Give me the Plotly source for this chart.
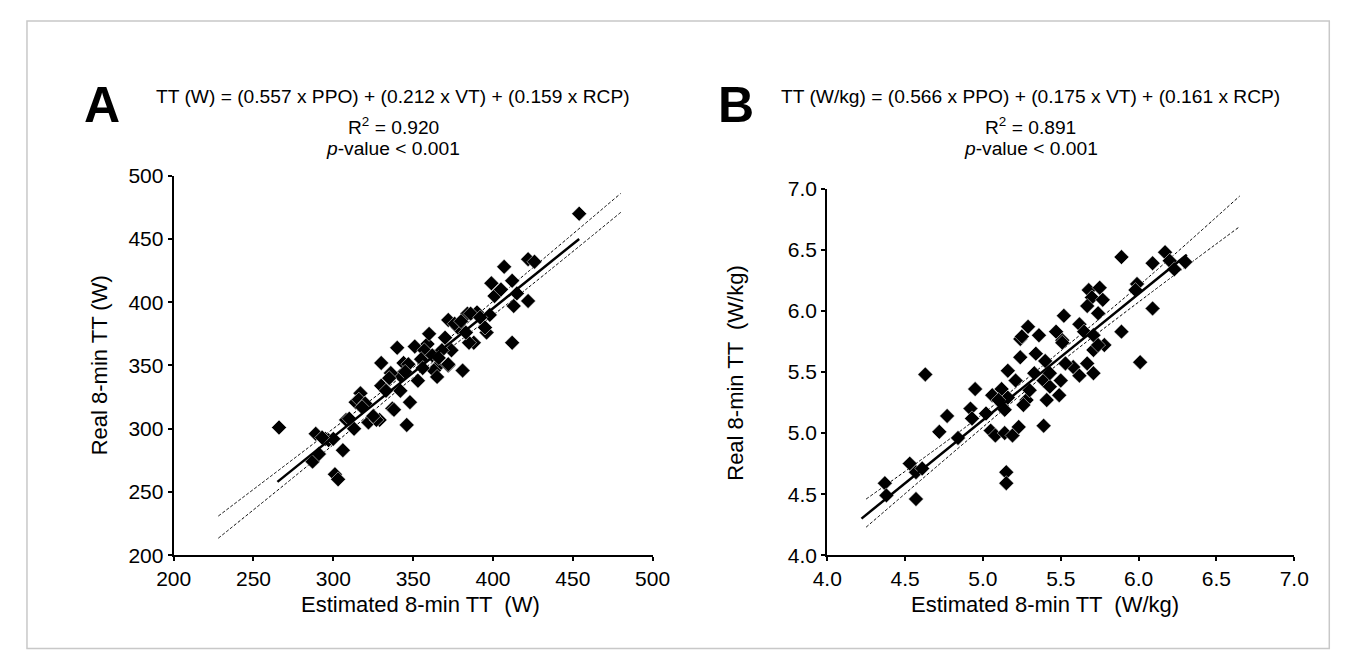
import plotly.graph_objects as go

# ---------------- data ----------------
a_est = [266, 289, 287, 291, 295, 301, 303, 306, 308, 313, 317, 314, 322, 329, 330, 330, 337, 342,
         344, 346, 348, 353, 340, 351, 359, 365, 372, 381, 388, 374, 297, 316, 320, 327, 338, 336,
         342, 347, 360, 412, 396, 385, 413, 422, 363, 372, 357, 368, 365, 372, 384, 390, 454, 407,
         422, 426, 412, 399, 401, 415, 395, 386, 325, 335, 345, 355, 362, 370, 378, 376, 380, 398,
         405, 318, 310, 300, 293, 333, 356, 366, 383, 392]
a_real = [301, 296, 274, 280, 292, 264, 260, 283, 307, 300, 328, 321, 305, 307, 334, 352, 316, 342,
          352, 303, 321, 338, 364, 365, 367, 349, 350, 346, 368, 362, 291, 323, 320, 307, 315, 344,
          330, 351, 375, 368, 376, 368, 397, 401, 346, 351, 362, 362, 341, 386, 391, 392, 470, 428,
          434, 432, 417, 415, 405, 407, 380, 391, 310, 340, 345, 355, 358, 372, 380, 383, 385, 390,
          410, 317, 308, 292, 293, 330, 348, 356, 376, 388]

a_fit_x = [265, 454]
a_fit_y = [258, 450]
a_band_x = [228, 290, 355, 420, 480]
a_upper_y = [231, 290.5, 353.5, 422, 486]
a_lower_y = [213.5, 277, 345.5, 409.5, 471]

b_est = [4.63, 4.37, 4.38, 4.53, 4.57, 4.61, 4.57, 4.72, 4.77, 4.84, 4.92, 4.93, 4.95, 5.02, 5.06,
         5.12, 5.16, 5.12, 5.05, 5.08, 5.14, 5.19, 5.15, 5.15, 5.24, 5.24, 5.23, 5.16, 5.14, 5.34,
         5.28, 5.26, 5.33, 5.39, 5.43, 5.41, 5.39, 5.43, 5.50, 5.51, 5.58, 5.53, 5.67, 5.71, 5.71,
         5.78, 6.01, 5.89, 6.09, 5.99, 5.98, 5.68, 5.75, 5.70, 5.77, 5.67, 5.74, 5.52, 5.62, 5.65,
         5.71, 5.47, 5.51, 5.29, 5.25, 5.36, 5.89, 6.09, 6.17, 6.20, 6.23, 6.30, 5.10, 5.30, 5.21,
         5.40, 5.49, 5.62, 5.74]
b_real = [5.48, 4.59, 4.49, 4.75, 4.68, 4.71, 4.46, 5.01, 5.14, 4.96, 5.20, 5.12, 5.36, 5.16, 5.31,
          5.36, 5.51, 5.24, 5.02, 4.98, 5.00, 4.98, 4.68, 4.59, 5.77, 5.62, 5.05, 5.29, 5.19, 5.65,
          5.27, 5.23, 5.49, 5.43, 5.38, 5.27, 5.06, 5.49, 5.43, 5.76, 5.54, 5.57, 5.57, 5.49, 5.68,
          5.72, 5.58, 6.44, 6.39, 6.22, 6.17, 6.17, 6.19, 6.11, 6.09, 6.04, 5.98, 5.96, 5.89, 5.83,
          5.80, 5.83, 5.74, 5.87, 5.79, 5.80, 5.83, 6.02, 6.48, 6.41, 6.34, 6.40, 5.27, 5.35, 5.43,
          5.59, 5.31, 5.47, 5.72]

b_fit_x = [4.22, 6.31]
b_fit_y = [4.30, 6.46]
b_band_x = [4.25, 4.9, 5.45, 6.05, 6.65]
b_upper_y = [4.46, 5.06, 5.62, 6.26, 6.94]
b_lower_y = [4.23, 4.94, 5.53, 6.12, 6.69]

a_ticks = [200, 250, 300, 350, 400, 450, 500]
b_ticks = [4.0, 4.5, 5.0, 5.5, 6.0, 6.5, 7.0]

FONT = "Liberation Sans, Arial, sans-serif"
W, H = 1350, 666


def px(x):
    return x / W


def py(y):
    return (H - y) / H


fig = go.Figure()

marker = dict(symbol="diamond", size=11.5, color="black", line=dict(color="white", width=0.5))
dash_style = dict(color="black", width=1, dash="3px,2px")

# Panel A
fig.add_trace(go.Scatter(x=a_band_x, y=a_upper_y, mode="lines", line=dash_style, line_shape="spline",
                         xaxis="x", yaxis="y", showlegend=False))
fig.add_trace(go.Scatter(x=a_band_x, y=a_lower_y, mode="lines", line=dash_style, line_shape="spline",
                         xaxis="x", yaxis="y", showlegend=False))
fig.add_trace(go.Scatter(x=a_est, y=a_real, mode="markers", marker=marker,
                         xaxis="x", yaxis="y", showlegend=False))
fig.add_trace(go.Scatter(x=a_fit_x, y=a_fit_y, mode="lines", line=dict(color="black", width=2.5),
                         xaxis="x", yaxis="y", showlegend=False))

# Panel B
fig.add_trace(go.Scatter(x=b_band_x, y=b_upper_y, mode="lines", line=dash_style, line_shape="spline",
                         xaxis="x2", yaxis="y2", showlegend=False))
fig.add_trace(go.Scatter(x=b_band_x, y=b_lower_y, mode="lines", line=dash_style, line_shape="spline",
                         xaxis="x2", yaxis="y2", showlegend=False))
fig.add_trace(go.Scatter(x=b_est, y=b_real, mode="markers", marker=marker,
                         xaxis="x2", yaxis="y2", showlegend=False))
fig.add_trace(go.Scatter(x=b_fit_x, y=b_fit_y, mode="lines", line=dict(color="black", width=2.5),
                         xaxis="x2", yaxis="y2", showlegend=False))

axis_common = dict(showline=True, linecolor="black", linewidth=2, ticks="outside", ticklen=4,
                   tickwidth=1.5, tickcolor="black", showgrid=False, zeroline=False,
                   tickfont=dict(family=FONT, size=21, color="black"), mirror=False)

fig.update_layout(
    width=W, height=H,
    margin=dict(l=0, r=0, t=0, b=0),
    paper_bgcolor="white", plot_bgcolor="white",
    xaxis=dict(domain=[px(151.7), px(643.8)], range=[200, 500], tickvals=a_ticks, anchor="y", **axis_common),
    yaxis=dict(domain=[py(554.4), py(161.3)], range=[200, 500], tickvals=a_ticks, anchor="x", **axis_common),
    xaxis2=dict(domain=[px(823.2), px(1303.0)], range=[4.0, 7.0], tickvals=b_ticks, tickformat=".1f",
                anchor="y2", **axis_common),
    yaxis2=dict(domain=[py(554.4), py(174.7)], range=[4.0, 7.0], tickvals=b_ticks, tickformat=".1f",
                anchor="x2", **axis_common),
)

ann = []


def add_text(text, x, y, size, angle=0, bold=False, xanchor="center"):
    ann.append(dict(text=("<b>%s</b>" % text) if bold else text, x=px(x), y=py(y), xref="paper",
                    yref="paper", showarrow=False, xanchor=xanchor, yanchor="middle", textangle=angle,
                    font=dict(family=FONT, size=size, color="black")))


add_text("A", 57.4, 88, 50, bold=True, xanchor="left")
add_text("B", 709.4, 88, 50, bold=True, xanchor="left")

add_text("TT (W) = (0.557 x PPO) + (0.212 x VT) + (0.159 x RCP)", 377.2, 79.6, 19.2)
add_text("R<sup>2</sup> = 0.920", 377.2, 109.5, 19.2)
add_text("<i>p</i>-value &lt; 0.001", 377.2, 133.3, 19.2)

add_text("TT (W/kg) = (0.566 x PPO) + (0.175 x VT) + (0.161 x RCP)", 1032.3, 79.6, 19.2)
add_text("R<sup>2</sup> = 0.891", 1032.3, 109.5, 19.2)
add_text("<i>p</i>-value &lt; 0.001", 1032.3, 133.3, 19.2)

add_text("Estimated 8-min TT  (W)", 404.9, 605, 22)
add_text("Estimated 8-min TT  (W/kg)", 1046.7, 605, 22)
add_text("Real 8-min TT (W)", 75.9, 357.8, 22, angle=-90)
add_text("Real 8-min TT  (W/kg)", 728.8, 365, 22, angle=-90)

fig.update_layout(annotations=ann)

fig.add_shape(type="rect", xref="paper", yref="paper", x0=px(1), x1=px(1339), y0=py(651), y1=py(1),
              line=dict(color="#c8c8c8", width=1.5), fillcolor="rgba(0,0,0,0)")

fig.write_html("out.html")
